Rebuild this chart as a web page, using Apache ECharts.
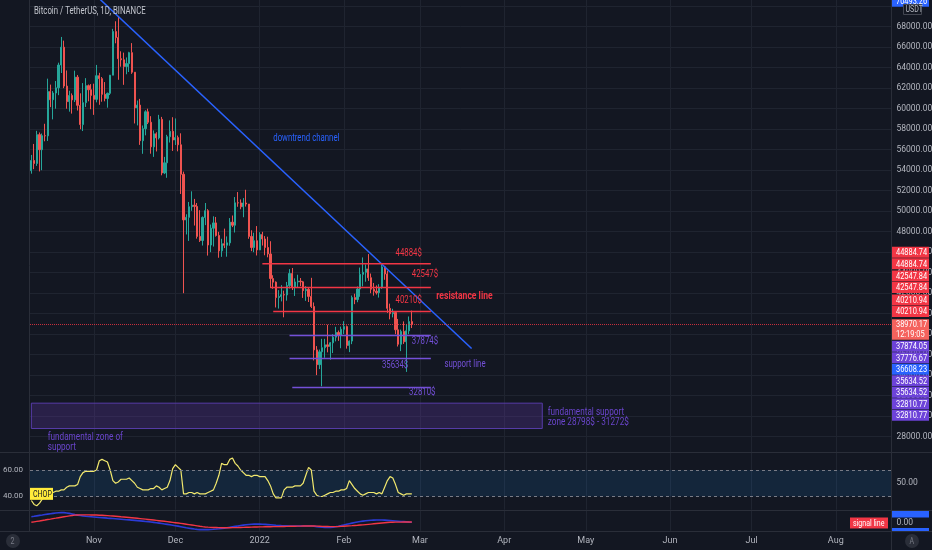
<!DOCTYPE html>
<html>
<head>
<meta charset="utf-8">
<title>Bitcoin / TetherUS, 1D, BINANCE</title>
<script src="https://cdn.jsdelivr.net/npm/echarts/dist/echarts.min.js"></script>
<style>
  html, body { margin: 0; padding: 0; background: #131722; }
  #chart { width: 932px; height: 550px; }
</style>
</head>
<body>
<div id="chart"></div>
<script>
// ---- data ----
var startDay = '2021-10-09';
var axisDays = 317;            // visible range, Oct 9 2021 .. Aug 21 2022
var monthLabels = {
    '2021-11-01': 'Nov', '2021-12-01': 'Dec', '2022-01-01': '2022', '2022-02-01': 'Feb',
    '2022-03-01': 'Mar', '2022-04-01': 'Apr', '2022-05-01': 'May', '2022-06-01': 'Jun',
    '2022-07-01': 'Jul', '2022-08-01': 'Aug'
};

// daily candles, Oct 9 2021 .. Feb 26 2022
var priceOpen = [
    53950, 54950, 54660, 57470, 56000, 57370, 57350, 61670, 60875, 61530, 62040, 64260, 66000, 62210, 60690, 61290, 60860, 63080, 60330, 58450, 60590, 62250, 61850,
    61300, 60910, 63220, 62930, 61400, 61000, 61500, 63270, 67530, 66940, 64880, 64770, 64120, 64400, 65470, 63560, 60080, 60350, 56880, 58050, 59700, 58680, 56280, 57550, 57150, 58960, 53730, 54720, 57270, 57790,
    56950, 57180, 56480, 53600, 49150, 49400, 50440, 50590, 50470, 47540, 47140, 49390, 50050, 46700, 48340, 48860, 47630, 46130, 46830, 46680, 46910, 48930, 48630, 50820, 50810, 50430, 50800, 50700, 47540, 46460, 47120,
    46220, 47720, 47290, 46460, 45830, 43430, 43080, 41570, 41680, 41860, 41830, 42740, 43920, 42590, 43100, 43180, 43110, 42250, 42380, 41690, 40700, 36470, 35030, 36280, 36680, 36960, 36810, 37160, 37710, 38170, 37920,
    38480, 38740, 36900, 37330, 41570, 41380, 42410, 43840, 44040, 44370, 43510, 42390, 42200, 42050, 42540, 44570, 43880, 40520, 40000, 40120, 38430, 37020, 38270, 37260, 38330, 39230
];
var priceHigh = [
    55490, 56560, 57840, 57680, 57580, 58530, 62930, 62350, 61720, 62700, 64490, 67000, 66640, 63730, 61750, 61490, 63710, 63290, 61500, 62500, 62980, 62360, 62400,
    62440, 64270, 63500, 63090, 62600, 61570, 63290, 67790, 68530, 69000, 65600, 65470, 65000, 65550, 66400, 63560, 60800, 60960, 58360, 59850, 60000, 59270, 57880, 57700, 59400, 59200, 55300, 57450, 58860, 59170,
    59050, 57380, 57600, 53860, 49700, 50900, 51940, 51200, 50800, 50100, 49490, 50800, 50200, 48700, 49500, 49440, 47990, 47310, 48300, 47540, 49330, 49580, 51380, 51870, 51150, 51280, 52090, 50700, 48140, 47900, 48550,
    47950, 47990, 47570, 47510, 47070, 43750, 43150, 42300, 42790, 42250, 43100, 44350, 44460, 43450, 43800, 43480, 43200, 42690, 42580, 43500, 41100, 36840, 36500, 37550, 37550, 38920, 37230, 38000, 38720, 38360, 38740,
    39270, 38850, 37390, 41770, 41950, 42660, 44500, 45490, 44800, 45820, 43920, 43000, 42760, 42880, 44770, 44580, 44200, 40980, 40480, 40150, 39490, 38450, 39250, 39000, 39730, 40300
];
var priceLow = [
    53660, 54100, 54420, 53880, 54000, 56820, 56850, 60150, 58960, 60000, 61320, 63480, 62000, 60000, 59710, 59520, 60650, 59820, 58000, 57820, 60170, 60720, 59950,
    59400, 60620, 60380, 60680, 60720, 60100, 61330, 63270, 66380, 62820, 64100, 62330, 63360, 63580, 63400, 58560, 58370, 56470, 55600, 57400, 58500, 55610, 55300, 55830, 57000, 53500, 53620, 53260, 56700, 55880,
    56460, 55840, 51680, 42000, 47730, 47100, 50040, 48600, 47320, 47000, 46650, 48640, 45670, 46000, 46550, 47520, 45460, 45550, 46400, 45560, 46630, 48450, 47920, 50430, 50190, 49410, 50450, 47310, 46100, 46000, 45680,
    46210, 46650, 45700, 45500, 42500, 42430, 40610, 40500, 41200, 39650, 41270, 42450, 42310, 41730, 42580, 42690, 41540, 41250, 41140, 40550, 35440, 34010, 34600, 32920, 35700, 36230, 35510, 36160, 37300, 37350, 36630,
    38020, 36590, 36250, 37030, 40930, 41120, 41650, 42670, 43120, 43200, 42000, 41760, 41870, 41570, 42430, 43310, 40070, 39450, 39640, 38000, 36800, 36350, 37050, 34320, 38010, 38600
];
var priceClose = [
    54950, 54660, 57470, 56000, 57370, 57350, 61670, 60875, 61530, 62040, 64260, 66000, 62210, 60690, 61290, 60860, 63080, 60330, 58450, 60590, 62250, 61850, 61300,
    60910, 63220, 62930, 61400, 61000, 61500, 63270, 67530, 66940, 64880, 64770, 64120, 64400, 65470, 63560, 60080, 60350, 56880, 58050, 59700, 58680, 56280, 57550, 57150, 58960, 53730, 54720, 57270, 57790, 56950,
    57180, 56480, 53600, 49150, 49400, 50440, 50590, 50470, 47540, 47140, 49390, 50050, 46700, 48340, 48860, 47630, 46130, 46830, 46680, 46910, 48930, 48630, 50820, 50810, 50430, 50800, 50700, 47540, 46460, 47120, 46220,
    47720, 47290, 46460, 45830, 43430, 43080, 41570, 41680, 41860, 41830, 42740, 43920, 42590, 43100, 43180, 43110, 42250, 42380, 41690, 40700, 36470, 35030, 36280, 36680, 36960, 36810, 37160, 37710, 38170, 37920, 38480,
    38740, 36900, 37330, 41570, 41380, 42410, 43840, 44040, 44370, 43510, 42390, 42200, 42050, 42540, 44570, 43880, 40520, 40000, 40120, 38430, 37020, 38270, 37260, 38330, 39230, 38970.17
];
var lastPrice = 38970.17;
var countdown = '12:19:05';

// CHOP indicator
var chopValues = [
    37, 34, 33, 35, 38, 42, 42, 43, 43, 44, 44, 45, 45, 47, 48, 48, 48, 49, 55, 58,
    59, 59, 59, 59, 60, 67, 68, 67, 66, 60, 52, 50, 51, 53, 53, 53, 54, 52, 50, 47,
    46, 45, 45, 45, 46, 46, 48, 47, 45, 46, 47, 52, 61, 64, 62, 60, 42, 42, 43, 43,
    42, 43, 42, 42, 42, 43, 44, 45, 50, 56, 65, 64, 64, 68, 69, 65, 63, 60, 58, 56,
    56, 55, 56, 56, 55, 55, 55, 52, 48, 42, 39, 39, 39, 45, 47, 47, 47, 48, 48, 48,
    50, 56, 62, 60, 44, 41, 40, 40, 41, 42, 43, 43, 44, 44, 45, 45, 46, 52, 49, 46,
    44, 42, 41, 42, 43, 43, 43, 42, 43, 42, 47, 52, 55, 54, 49, 43, 42, 41, 42, 42, 42
];
var chopBand = [40, 60];

// lower pane: signal line (red) and the blue line
var signalValues = [
    16, 26, 36, 46, 57, 67, 78, 88, 99, 109, 120, 130, 140, 150, 160, 170, 178, 181, 183, 184,
    184, 183, 182, 181, 180, 177, 174, 170, 166, 162, 157, 152, 147, 141, 136, 130, 124, 118, 112, 106,
    100, 94, 87, 80, 73, 66, 59, 52, 45, 38, 30, 22, 14, 6, -2, -10, -19, -28, -37, -46,
    -55, -65, -75, -84, -90, -95, -99, -102, -104, -106, -107, -107, -107, -107, -106, -105, -104, -102, -100, -98,
    -96, -94, -92, -90, -89, -88, -87, -86, -85, -84, -83, -82, -80, -79, -78, -76, -75, -74, -72, -71,
    -70, -69, -68, -68, -70, -72, -74, -77, -79, -81, -83, -84, -84, -81, -77, -73, -69, -65, -61, -56,
    -52, -47, -43, -37, -31, -25, -19, -13, -7, -1, 5, 11, 16, 18, 19, 20, 20, 21, 22, 22, 23
];
var blueValues = [
    143, 152, 162, 172, 182, 192, 201, 210, 218, 226, 232, 236, 235, 228, 218, 205, 190, 178, 168, 160,
    152, 146, 141, 136, 131, 126, 121, 116, 110, 105, 100, 95, 90, 85, 80, 75, 70, 65, 59, 53,
    47, 41, 35, 30, 22, 14, 6, -3, -12, -22, -32, -42, -52, -62, -72, -84, -96, -108, -118, -128,
    -138, -145, -150, -152, -152, -150, -147, -143, -138, -132, -125, -117, -108, -98, -88, -78, -68, -58, -48, -40,
    -33, -28, -25, -24, -25, -28, -32, -37, -42, -47, -52, -56, -60, -63, -65, -67, -68, -69, -70, -70,
    -69, -68, -68, -70, -76, -83, -90, -96, -100, -102, -100, -96, -86, -74, -60, -45, -30, -16, -3, 10,
    22, 33, 42, 50, 56, 61, 65, 67, 68, 67, 64, 60, 55, 50, 45, 40, 35, 30, 25, 20, 16
];

// drawings on the price pane
var trendStart = ['2021-11-03', 70740];
var trendEnd = ['2022-03-20', 36600];
var resistLevels = [44884.74, 42547.84, 40210.94];
var resistStarts = ['2022-01-02', '2022-01-05', '2022-01-06'];
var supportLevels = [37874.05, 35634.52, 32810.77];
var supportStarts = ['2022-01-12', '2022-01-12', '2022-01-13'];
var levelEnd = '2022-03-05';
var zoneTop = 31272;
var zoneBottom = 28798;
var zoneEnd = '2022-04-15';

// text notes: text, anchor day, anchor price
var noteTexts = ['downtrend channel', '44884$', '42547$', '40210$', 'resistance line', '37874$', '35634$', 'support line', '32810$',
    'fundamental support\nzone 28798$ - 31272$', 'fundamental zone of\nsupport'];
var noteDays = ['2022-01-06', '2022-02-20', '2022-02-26', '2022-02-20', '2022-03-07', '2022-02-26', '2022-02-15', '2022-03-10', '2022-02-25',
    '2022-04-17', '2021-10-15'];
var notePrices = [57070, 45920, 43780, 41270, 41710, 37270, 34980, 35000, 32360, 29880, 27460];
var noteKinds = ['blue', 'red', 'red', 'red', 'redBold', 'purple', 'purple', 'purple', 'purple', 'zone', 'zone'];

// price tags stacked on the right scale
var tagsAbove = [40210.94, 40210.94, 42547.84, 42547.84, 44884.74, 44884.74];
var tagsBelow = [37874.05, 37776.67, 36608.23, 35634.52, 35634.52, 32810.77, 32810.77];
var tagsBelowKind = ['purple', 'purple', 'blue', 'purple', 'purple', 'purple', 'purple'];
var topTag = 70493.26;
var lowerPaneTags = [249.28, -240];

// ---- style ----
var font = 'Roboto, "DejaVu Sans", sans-serif';
var narrow = 0.78;             // the screenshot's text is narrower than Roboto
var bg = '#131722';
var gridColor = '#1f2430';
var upColor = '#26a69a';
var downColor = '#ef5350';
var textColor = '#b2b5be';
var kindColor = {
    red: '#f23645', redBold: '#f23645', purple: '#7450d8', blue: '#2962ff', zone: '#6a45cc'
};

function dayList(start, n) {
    var out = [];
    var t = Date.parse(start + 'T00:00:00Z');
    for (var i = 0; i < n; i++) {
        out.push(new Date(t + i * 86400000).toISOString().slice(0, 10));
    }
    return out;
}
var days = dayList(startDay, axisDays);
var isMonth = function (i, v) { return !!monthLabels[v]; };

var candles = [];
for (var i = 0; i < priceOpen.length; i++) {
    candles.push([priceOpen[i], priceClose[i], priceLow[i], priceHigh[i]]);
}

function monthAxis(gridIndex, showLabel) {
    return {
        type: 'category',
        gridIndex: gridIndex,
        data: days,
        boundaryGap: true,
        axisLine: { show: false },
        axisTick: { show: false },
        axisLabel: {
            show: showLabel,
            interval: isMonth,
            formatter: function (v) { return monthLabels[v] || ''; },
            color: textColor, fontSize: 9, fontFamily: font, margin: 5
        },
        splitLine: { show: true, interval: isMonth, alignWithLabel: true, lineStyle: { color: gridColor, width: 1 } }
    };
}

function segment(name, a, b, color, width) {
    return {
        name: name, type: 'line', xAxisIndex: 0, yAxisIndex: 0,
        data: [a, b], showSymbol: false, symbol: 'none', silent: true, z: 4,
        lineStyle: { color: color, width: width }
    };
}

var series = [
    {
        name: 'BTCUSDT',
        type: 'candlestick',
        xAxisIndex: 0, yAxisIndex: 0,
        data: candles,
        barWidth: '62%',
        itemStyle: { color: upColor, color0: downColor, borderColor: upColor, borderColor0: downColor, borderWidth: 1 },
        markLine: {
            silent: true, symbol: ['none', 'none'], label: { show: false },
            lineStyle: { color: '#f23645', type: 'dotted', width: 1, opacity: 0.8 },
            data: [{ yAxis: lastPrice }]
        },
        markArea: {
            silent: true,
            itemStyle: { color: 'rgba(103,58,183,0.26)', borderColor: '#573ca8', borderWidth: 1 },
            data: [[{ coord: [days[0], zoneTop] }, { coord: [zoneEnd, zoneBottom] }]]
        }
    },
    segment('downtrend', trendStart, trendEnd, '#2962ff', 1.5)
];
for (var r = 0; r < resistLevels.length; r++) {
    series.push(segment('resistance ' + r, [resistStarts[r], resistLevels[r]], [levelEnd, resistLevels[r]], '#f23645', 1.5));
}
for (var s = 0; s < supportLevels.length; s++) {
    series.push(segment('support ' + s, [supportStarts[s], supportLevels[s]], [levelEnd, supportLevels[s]], '#7450d8', 1.5));
}
series.push({
    name: 'CHOP', type: 'line', xAxisIndex: 1, yAxisIndex: 1,
    data: chopValues, showSymbol: false, symbol: 'none', silent: true, z: 4,
    lineStyle: { color: '#f2e86d', width: 1.2 },
    markArea: { silent: true, itemStyle: { color: 'rgba(33,150,243,0.12)' }, data: [[{ yAxis: chopBand[0] }, { yAxis: chopBand[1] }]] },
    markLine: {
        silent: true, symbol: ['none', 'none'], label: { show: false },
        lineStyle: { color: '#787b86', type: [3, 3], width: 1 },
        data: [{ yAxis: chopBand[0] }, { yAxis: chopBand[1] }]
    }
});
series.push({
    name: 'blue line', type: 'line', xAxisIndex: 2, yAxisIndex: 3,
    data: blueValues, showSymbol: false, symbol: 'none', silent: true,
    lineStyle: { color: '#2b3bd6', width: 1.6 }
});
series.push({
    name: 'signal line', type: 'line', xAxisIndex: 2, yAxisIndex: 3,
    data: signalValues, showSymbol: false, symbol: 'none', silent: true,
    lineStyle: { color: '#f23645', width: 1.4 }
});

var option = {
    backgroundColor: bg,
    animation: false,
    textStyle: { fontFamily: font },
    grid: [
        { left: 30, right: 40.5, top: -14.3, height: 471.5, outerBoundsMode: 'none' },
        { left: 30, right: 40.5, top: 453, height: 56.75, outerBoundsMode: 'none' },
        { left: 30, right: 40.5, top: 511, height: 19.9, outerBoundsMode: 'none' }
    ],
    xAxis: [monthAxis(0, false), monthAxis(1, false), monthAxis(2, true)],
    yAxis: [
        {
            type: 'value', gridIndex: 0, position: 'right', min: 26000, max: 72000, interval: 2000,
            axisLine: { show: false }, axisTick: { show: false },
            axisLabel: {
                color: textColor, fontSize: 8.5, fontFamily: font, margin: 5,
                formatter: function (v) { return (v < 27000 || v > 69000) ? '' : v.toFixed(2); }
            },
            splitLine: { show: true, showMinLine: false, showMaxLine: false, lineStyle: { color: gridColor, width: 1 } }
        },
        {
            type: 'value', gridIndex: 1, position: 'left', min: 30, max: 72.83, interval: 10,
            axisLine: { show: false }, axisTick: { show: false }, splitLine: { show: false },
            axisLabel: {
                color: textColor, fontSize: 8, fontFamily: font, margin: 7,
                formatter: function (v) { return (v === 40 || v === 60) ? v.toFixed(2) : ''; }
            }
        },
        {
            type: 'value', gridIndex: 1, position: 'right', min: 30, max: 72.83, interval: 10,
            axisLine: { show: false }, axisTick: { show: false }, splitLine: { show: false },
            axisLabel: {
                color: textColor, fontSize: 8.5, fontFamily: font, margin: 5,
                formatter: function (v) { return v === 50 ? v.toFixed(2) : ''; }
            }
        },
        {
            type: 'value', gridIndex: 2, position: 'right', min: -180, max: 272, interval: 90,
            axisLine: { show: false }, axisTick: { show: false }, splitLine: { show: false },
            axisLabel: {
                color: textColor, fontSize: 8.5, fontFamily: font, margin: 5,
                formatter: function (v) { return v === 0 ? v.toFixed(2) : ''; }
            }
        }
    ],
    series: series
};

var chart = echarts.init(document.getElementById('chart'));
chart.setOption(option);

// ---- overlays placed through the chart's own scales ----
var g = [];
function text(x, y, str, color, size, extra) {
    extra = extra || {};
    var st = {
        text: str, fill: color, font: (extra.weight ? extra.weight + ' ' : '') + size + 'px ' + font,
        textAlign: extra.align || 'left', align: extra.align || 'left',
        textVerticalAlign: 'middle', verticalAlign: 'middle',
        lineHeight: extra.lineHeight || size + 1
    };
    g.push({ type: 'text', x: x, y: y, scaleX: narrow, z: 120, silent: true, style: st });
}
function rect(x, y, w, h, fill, stroke) {
    g.push({ type: 'rect', z: 110, silent: true, shape: { x: x, y: y, width: w, height: h },
        style: { fill: fill, stroke: stroke || null, lineWidth: stroke ? 1 : 0 } });
}
function hline(y, x1, x2) {
    g.push({ type: 'line', z: 105, silent: true, shape: { x1: x1, y1: y, x2: x2, y2: y }, style: { stroke: '#2a2e39', lineWidth: 1 } });
}
function vline(x, y1, y2) {
    g.push({ type: 'line', z: 105, silent: true, shape: { x1: x, y1: y1, x2: x, y2: y2 }, style: { stroke: '#2a2e39', lineWidth: 1 } });
}

// pane separators
hline(452.5, 0, 932);
hline(510.5, 0, 932);
hline(531.5, 0, 932);
vline(891.5, 0, 550);
vline(29.5, 0, 531.5);

// title
text(34, 11, 'Bitcoin / TetherUS, 1D, BINANCE', '#c3c6ce', 10);

// notes on the chart
for (var n = 0; n < noteTexts.length; n++) {
    var p = chart.convertToPixel({ gridIndex: 0 }, [noteDays[n], notePrices[n]]);
    var kind = noteKinds[n];
    if (kind === 'redBold') {
        text(p[0], p[1], noteTexts[n], kindColor[kind], 11, { weight: 'bold' });
    } else if (kind === 'zone') {
        text(p[0], p[1], noteTexts[n], kindColor[kind], 10.5, { lineHeight: 9.5 });
    } else {
        text(p[0], p[1], noteTexts[n], kindColor[kind], 10);
    }
}

// right scale tags
var tagX = 892, tagW = 37, rowH = 11.5;
function tag(yc, color, str) {
    rect(tagX, yc - 5.5, tagW, 11, color);
    text(tagX + 4, yc + 0.5, str, '#ffffff', 9.5);
}
var yLast = chart.convertToPixel({ yAxisIndex: 0 }, lastPrice);
rect(tagX, yLast - 5, tagW, 20.5, '#f5625d');
text(tagX + 4, yLast + 0.5, lastPrice.toFixed(2), '#ffffff', 9.5);
text(tagX + 4, yLast + 10, countdown, '#ffffff', 9.5);

var prev = yLast;
for (var a = 0; a < tagsAbove.length; a++) {
    var ya = Math.min(chart.convertToPixel({ yAxisIndex: 0 }, tagsAbove[a]), prev - rowH);
    tag(ya, kindColor.red, tagsAbove[a].toFixed(2));
    prev = ya;
}
prev = yLast + 10.5;
for (var b = 0; b < tagsBelow.length; b++) {
    var yb = Math.max(chart.convertToPixel({ yAxisIndex: 0 }, tagsBelow[b]), prev + rowH);
    tag(yb, tagsBelowKind[b] === 'blue' ? '#2962ff' : '#6d43d9', tagsBelow[b].toFixed(2));
    prev = yb;
}
tag(chart.convertToPixel({ yAxisIndex: 0 }, topTag), '#2962ff', topTag.toFixed(2));

// USDT unit box
rect(903.5, 4.5, 18, 10, bg, '#434651');
text(905.5, 10, 'USDT', textColor, 9);

// CHOP name tag at its last value
var yChop = chart.convertToPixel({ yAxisIndex: 1 }, chopValues[chopValues.length - 1]);
rect(30, yChop - 6, 23, 12, '#ffeb3b');
text(33, yChop + 0.5, 'CHOP', '#131722', 9);

// lower pane tags, cut by the pane edges
var paneTop = 511, paneBottom = 531;
for (var t = 0; t < lowerPaneTags.length; t++) {
    var yt = chart.convertToPixel({ yAxisIndex: 3 }, lowerPaneTags[t]);
    var y0 = Math.max(yt - 5.5, paneTop), y1 = Math.min(yt + 5.5, paneBottom);
    if (y1 > y0) rect(tagX, y0, tagW, y1 - y0, '#2962ff');
}
var ySig = chart.convertToPixel({ yAxisIndex: 3 }, 0);
rect(850, ySig - 5.5, 38, 11, '#f23645');
text(853, ySig + 0.5, 'signal line', '#ffffff', 9);

// corner buttons
g.push({ type: 'circle', z: 110, silent: true, shape: { cx: 13, cy: 541, r: 7 }, style: { fill: '#2a2e39' } });
text(10.5, 541.5, '2', '#787b86', 9);
g.push({ type: 'circle', z: 110, silent: true, shape: { cx: 912, cy: 541, r: 7 }, style: { fill: '#2a2e39' } });
text(909.5, 541.5, 'A', '#787b86', 9);

chart.setOption({ graphic: g });
</script>
</body>
</html>
